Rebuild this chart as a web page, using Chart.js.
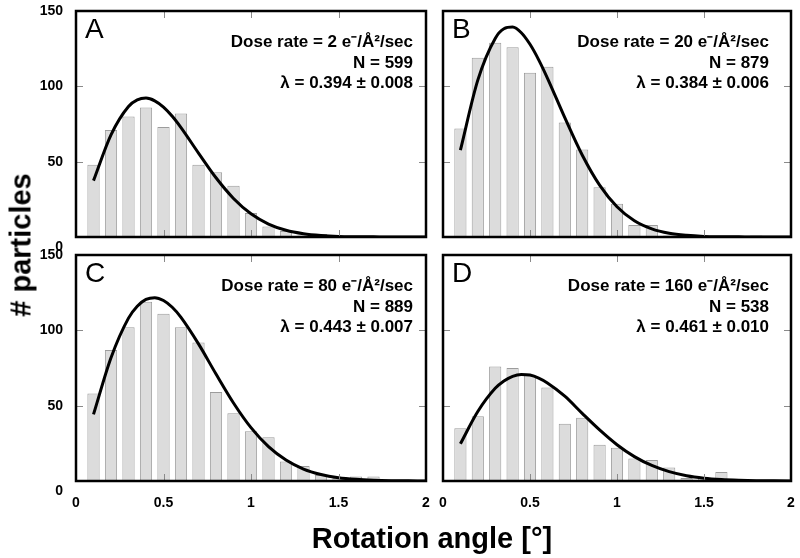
<!DOCTYPE html>
<html>
<head>
<meta charset="utf-8">
<script src="https://cdn.jsdelivr.net/npm/chart.js@4.4.0/dist/chart.umd.min.js"></script>
<style>
  body { margin: 0; background: #fff; }
  #wrap { position: relative; width: 800px; height: 558px; overflow: hidden; }
  #wrap canvas { position: absolute; left: 0; top: 0; }
  .axis-title {
    position: absolute;
    font: bold 29px 'Liberation Sans', Arial, sans-serif;
    line-height: 29px;
    color: #000;
    white-space: nowrap;
  }
  #xtitle { left: 432px; top: 524px; transform: translateX(-50%); }
  #ytitle { left: 21px; top: 245px; transform: translate(-50%, -50%) rotate(-90deg); }
</style>
</head>
<body>
<div id="wrap">
  <canvas id="pA" width="800" height="558"></canvas>
  <canvas id="pB" width="800" height="558"></canvas>
  <canvas id="pC" width="800" height="558"></canvas>
  <canvas id="pD" width="800" height="558"></canvas>
  <div class="axis-title" id="xtitle">Rotation angle [°]</div>
  <div class="axis-title" id="ytitle"># particles</div>
</div>
<script>
// histogram bins (rotation angle, degrees)
const binCenters = [0.1, 0.2, 0.3, 0.4, 0.5, 0.6, 0.7, 0.8, 0.9, 1.0,
                    1.1, 1.2, 1.3, 1.4, 1.5, 1.6, 1.7, 1.8, 1.9];
const countsA = [48, 71, 80, 86, 73, 82, 48, 43, 34, 16, 7, 4, 1, 2, 0, 0, 0, 0, 0];
const countsB = [72, 119, 129, 126, 109, 113, 76, 58, 33, 22, 8, 8, 1, 0, 0, 0, 0, 1, 0];
const countsC = [58, 87, 102, 119, 111, 102, 92, 59, 45, 33, 29, 13, 10, 4, 2, 3, 3, 0, 0];
const countsD = [35, 43, 76, 75, 70, 62, 38, 42, 24, 22, 15, 14, 9, 2, 2, 6, 1, 0, 0];

// fitted curves
const curveX = [0.1, 0.2, 0.3, 0.35, 0.4, 0.45, 0.5, 0.55, 0.6, 0.7, 0.8, 0.9, 1.0,
                1.1, 1.2, 1.3, 1.4, 1.5, 1.6, 1.7, 1.8, 1.9, 2.0];
const curveA = [37.4, 67.8, 86.6, 91.0, 92.2, 90.4, 86.2, 80.1, 72.6, 55.7, 39.3, 25.6, 15.4,
                8.6, 4.5, 2.2, 1.0, 0.4, 0.2, 0.1, 0, 0, 0];
const curveB = [57.6, 104.1, 131.8, 138.2, 139.3, 135.6, 127.9, 117.6, 105.5, 79.2, 54.4, 34.4, 20.1,
                10.8, 5.4, 2.5, 1.1, 0.4, 0.2, 0.1, 0, 0, 0];
const curveC = [44.2, 81.8, 108.1, 116.0, 120.5, 121.7, 119.8, 115.3, 108.6, 91.0, 71.0, 51.8, 35.4,
                22.8, 13.9, 7.9, 4.3, 2.2, 1.1, 0.5, 0.2, 0.1, 0];
const curveD = [24.7, 46.1, 61.5, 66.4, 69.5, 70.7, 70.3, 68.3, 65.1, 56.3, 44.9, 33.9, 24.1,
                16.2, 10.3, 6.2, 3.5, 1.9, 1.0, 0.5, 0.2, 0.1, 0];

const panelLetters = ['A', 'B', 'C', 'D'];
const doseRates = [2, 20, 80, 160];
const particleCounts = [599, 879, 889, 538];
const lambdas = ['0.394 ± 0.008', '0.384 ± 0.006', '0.443 ± 0.007', '0.461 ± 0.010'];

const xTicks = [0, 0.5, 1, 1.5, 2];
const yTicks = [0, 50, 100, 150];

const FONT = "'Liberation Sans', Arial, sans-serif";
const Y_AXIS_W = 70;
const X_AXIS_H = 40;

// frame, inner tick marks, shifted zero label and the annotation text
const panelFrame = {
  id: 'panelFrame',
  afterDraw(chart, args, o) {
    const { ctx, chartArea: a } = chart;
    const x = chart.scales.x, y = chart.scales.y;
    ctx.save();
    ctx.strokeStyle = '#8a8a8a';
    ctx.lineWidth = 1;
    ctx.beginPath();
    xTicks.slice(1, -1).forEach(v => {
      const px = Math.round(x.getPixelForValue(v)) + 0.5;
      ctx.moveTo(px, a.top); ctx.lineTo(px, a.top + 7);
      ctx.moveTo(px, a.bottom); ctx.lineTo(px, a.bottom - 7);
    });
    yTicks.slice(1, -1).forEach(v => {
      const py = Math.round(y.getPixelForValue(v)) + 0.5;
      ctx.moveTo(a.left, py); ctx.lineTo(a.left + 7, py);
      ctx.moveTo(a.right, py); ctx.lineTo(a.right - 7, py);
    });
    ctx.stroke();

    ctx.strokeStyle = '#000';
    ctx.lineWidth = 2.5;
    ctx.strokeRect(a.left, a.top, a.right - a.left, a.bottom - a.top);

    ctx.fillStyle = '#000';
    if (o.showY) {
      ctx.font = 'bold 14px ' + FONT;
      ctx.textAlign = 'right';
      ctx.textBaseline = 'middle';
      ctx.fillText('0', a.left - 13, y.getPixelForValue(0) + 10);
    }

    ctx.font = '28px ' + FONT;
    ctx.textAlign = 'left';
    ctx.textBaseline = 'middle';
    ctx.fillText(panelLetters[o.idx], a.left + 9, a.top + 19);

    ctx.font = 'bold 17px ' + FONT;
    ctx.textAlign = 'right';
    const tx = a.right - o.textInset;
    ctx.fillText('Dose rate = ' + doseRates[o.idx] + ' e⁻/Å²/sec', tx, a.top + 31.5);
    ctx.fillText('N = ' + particleCounts[o.idx], tx, a.top + 52);
    ctx.fillText('λ = ' + lambdas[o.idx], tx, a.top + 72.5);
    ctx.restore();
  }
};

// keep the plot box where the padding puts it: no extra room for edge labels
function noEdgePadding(s) {
  s.paddingTop = 0;
  s.paddingBottom = 0;
  s.paddingLeft = 0;
  s.paddingRight = 0;
}

function makePanel(id, idx, counts, curve, box) {
  new Chart(document.getElementById(id), {
    data: {
      datasets: [
        {
          type: 'line',
          data: curveX.map((v, i) => ({ x: v, y: curve[i] })),
          borderColor: '#000',
          borderWidth: 3,
          pointRadius: 0,
          fill: false,
          cubicInterpolationMode: 'monotone',
          order: 0
        },
        {
          type: 'bar',
          data: binCenters.map((v, i) => ({ x: v, y: counts[i] })),
          backgroundColor: '#dcdcdc',
          borderColor: '#9c9c9c',
          borderWidth: 1,
          barPercentage: 0.7,
          categoryPercentage: 1,
          order: 1
        }
      ]
    },
    options: {
      responsive: false,
      animation: false,
      events: [],
      layout: {
        padding: {
          left: box.l - Y_AXIS_W,
          right: 800 - box.r,
          top: box.t,
          bottom: 558 - box.b - X_AXIS_H
        }
      },
      plugins: {
        legend: { display: false },
        tooltip: { enabled: false },
        panelFrame: { idx: idx, showY: box.showY, textInset: box.inset }
      },
      scales: {
        x: {
          type: 'linear',
          min: 0, max: 2,
          offset: false,
          afterFit: s => { s.height = X_AXIS_H; noEdgePadding(s); },
          afterBuildTicks: s => { s.ticks = xTicks.map(v => ({ value: v })); },
          grid: { display: false, drawTicks: false, offset: false },
          border: { display: false },
          ticks: {
            display: box.showX,
            padding: 14,
            maxRotation: 0,
            autoSkip: false,
            color: '#000',
            font: { family: FONT, size: 14, weight: 'bold' },
            callback: v => String(v)
          }
        },
        y: {
          min: 0, max: 150,
          afterFit: s => { s.width = Y_AXIS_W; noEdgePadding(s); },
          afterBuildTicks: s => { s.ticks = yTicks.map(v => ({ value: v })); },
          grid: { display: false, drawTicks: false },
          border: { display: false },
          ticks: {
            display: box.showY,
            padding: 13,
            color: '#000',
            font: { family: FONT, size: 14, weight: 'bold' },
            callback: v => (v === 0 ? '' : String(v))
          }
        }
      }
    },
    plugins: [panelFrame]
  });
}

makePanel('pA', 0, countsA, curveA, { l: 76, r: 426, t: 11, b: 237, showX: false, showY: true, inset: 13 });
makePanel('pB', 1, countsB, curveB, { l: 443, r: 791, t: 11, b: 237, showX: false, showY: false, inset: 22 });
makePanel('pC', 2, countsC, curveC, { l: 76, r: 426, t: 255, b: 481, showX: true, showY: true, inset: 13 });
makePanel('pD', 3, countsD, curveD, { l: 443, r: 791, t: 255, b: 481, showX: true, showY: false, inset: 22 });
</script>
</body>
</html>
